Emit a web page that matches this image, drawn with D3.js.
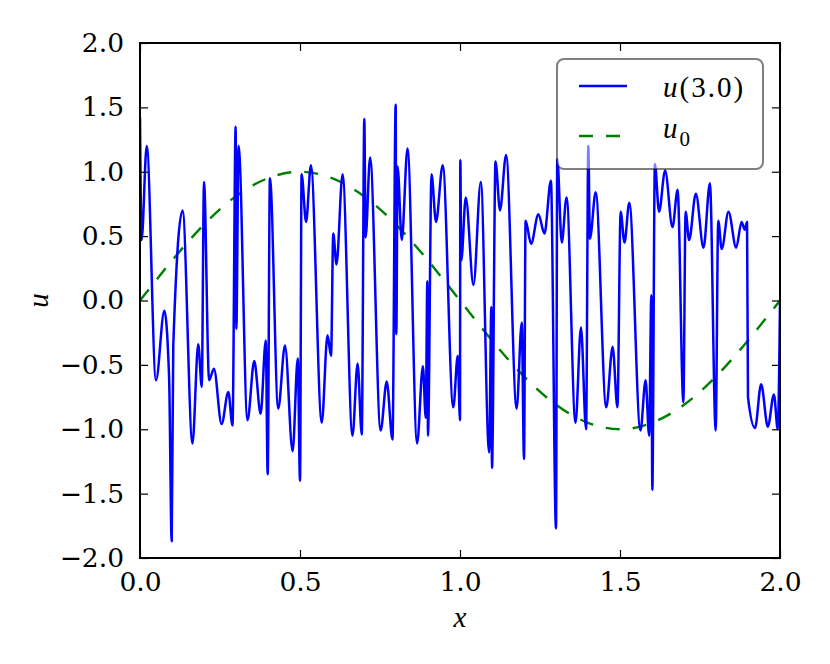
<!DOCTYPE html>
<html><head><meta charset="utf-8">
<script src="https://cdn.jsdelivr.net/npm/d3@7"></script>
<style>body{margin:0;background:#fff}svg{display:block}</style>
</head><body>
<svg id="chart" width="830" height="664"></svg>
<script>
// ---- data ----
const uX = [0.000,0.005,0.021,0.050,0.076,0.091,0.099,0.104,0.133,0.164,0.182,0.193,0.200,0.216,0.231,0.255,0.276,0.289,0.299,0.301,0.308,0.336,
0.357,0.377,0.393,0.399,0.406,0.432,0.453,0.477,0.493,0.500,0.505,0.519,0.534,0.568,0.586,0.597,0.604,0.614,0.633,0.664,0.680,
0.693,0.701,0.705,0.719,0.752,0.771,0.789,0.799,0.801,0.805,0.818,0.836,0.866,0.884,0.893,0.898,0.900,0.911,0.925,0.946,0.979,0.993,1.000,1.001,1.004,1.018,
1.042,1.065,1.091,1.098,1.100,1.111,1.125,1.144,1.177,1.193,1.200,1.205,1.222,1.245,1.264,1.284,1.300,1.304,1.318,1.333,1.361,
1.378,1.394,1.401,1.406,1.424,1.457,1.477,1.492,1.502,1.514,1.529,1.564,1.580,1.591,1.598,1.601,1.609,1.622,1.641,1.664,1.680,1.698,
1.705,1.716,1.737,1.761,1.781,1.799,1.807,1.818,1.839,1.863,1.880,1.890,1.897,1.900,1.922,1.941,1.962,1.981,1.993,2.000];
const uY = [1.42,0.47,1.20,-0.62,-0.08,-0.60,-1.87,-0.35,0.70,-1.11,-0.34,-0.67,0.92,-0.62,-0.53,-0.96,-0.71,-0.97,1.35,-0.22,1.20,-0.93,
-0.47,-0.88,-0.31,-1.35,0.95,-0.84,-0.35,-1.17,-0.45,-1.40,0.98,0.61,1.05,-0.95,-0.27,-0.43,0.52,0.28,0.98,-1.05,-0.49,
-1.04,1.41,0.49,1.11,-1.01,-0.63,-1.08,1.52,-0.26,1.04,0.47,1.18,-1.11,-0.51,-0.91,0.15,-1.05,0.98,0.61,1.05,-0.83,-0.43,-0.93,1.09,0.31,0.80,
0.12,0.92,-1.18,-0.05,-1.30,1.08,0.70,1.13,-0.84,-0.17,-1.23,0.62,0.44,0.67,0.52,0.93,-1.77,1.10,0.45,0.80,-0.95,
-0.21,-1.00,1.20,0.48,0.84,-0.83,-0.36,-0.83,0.69,0.45,0.76,-1.01,-0.62,-1.05,0.04,-1.47,1.06,0.69,1.01,0.57,0.86,-0.79,
0.69,0.47,0.83,0.41,0.91,-1.01,0.62,0.40,0.69,0.41,0.61,0.55,0.61,-0.75,-0.99,-0.65,-0.98,-0.73,-1.00,-0.02];

const u0X = [0,0.1,0.2,0.3,0.4,0.5,0.6,0.7,0.8,0.9,1.0,1.1,1.2,1.3,1.4,1.5,1.6,1.7,1.8,1.9,2.0];
const u0Y = [0,0.31,0.59,0.81,0.95,1.0,0.95,0.81,0.59,0.31,0,-0.31,-0.59,-0.81,-0.95,-1.0,-0.95,-0.81,-0.59,-0.31,0];

const xTicks = [0.0,0.5,1.0,1.5,2.0];
const yTicks = [-2.0,-1.5,-1.0,-0.5,0.0,0.5,1.0,1.5,2.0];
const legendLabels = ["u(3.0)","u0"];

// ---- drawing ----
const svg = d3.select("#chart");
const L=140, R=780, T=43, B=558;
const x = d3.scaleLinear().domain([0,2]).range([L,R]);
const y = d3.scaleLinear().domain([-2,2]).range([B,T]);
const fmt = v => (v<0?"\u2212":"") + Math.abs(v).toFixed(1);

svg.append("defs").append("clipPath").attr("id","clip")
  .append("rect").attr("x",L).attr("y",T).attr("width",R-L).attr("height",B-T);

const g = svg.append("g").attr("clip-path","url(#clip)");
g.append("path").datum(u0X.map((d,i)=>[d,u0Y[i]]))
  .attr("d", d3.line().x(d=>x(d[0])).y(d=>y(d[1])).curve(d3.curveNatural))
  .attr("fill","none").attr("stroke","#008000").attr("stroke-width",2.4)
  .attr("stroke-dasharray","14,13");
g.append("path").datum(uX.map((d,i)=>[d,uY[i]]))
  .attr("d", d3.line().x(d=>x(d[0])).y(d=>y(d[1])).curve(d3.curveMonotoneX))
  .attr("fill","none").attr("stroke","#0000ff").attr("stroke-width",2.5)
  .attr("stroke-linejoin","round");

// axes with inward ticks on all four sides
const tl = 8;
const axB = svg.append("g").attr("transform",`translate(0,${B})`)
  .call(d3.axisBottom(x).tickValues(xTicks).tickFormat(fmt).tickSizeInner(-tl).tickSizeOuter(0).tickPadding(13));
const axT = svg.append("g").attr("transform",`translate(0,${T})`)
  .call(d3.axisTop(x).tickValues(xTicks).tickFormat("").tickSizeInner(-tl).tickSizeOuter(0));
const axL = svg.append("g").attr("transform",`translate(${L},0)`)
  .call(d3.axisLeft(y).tickValues(yTicks).tickFormat(fmt).tickSizeInner(-tl).tickSizeOuter(0).tickPadding(16));
const axR = svg.append("g").attr("transform",`translate(${R},0)`)
  .call(d3.axisRight(y).tickValues(yTicks).tickFormat("").tickSizeInner(-tl).tickSizeOuter(0));
[axB,axT,axL,axR].forEach(a=>{
  a.select(".domain").remove();
  a.selectAll(".tick line").attr("stroke","#000").attr("stroke-width",1.2);
  a.selectAll("text").attr("font-family","DejaVu Serif").attr("font-size",26.5).attr("fill","#000");
});
axB.selectAll("text").attr("dy","0.75em");
svg.append("rect").attr("x",L).attr("y",T).attr("width",R-L).attr("height",B-T)
  .attr("fill","none").attr("stroke","#000").attr("stroke-width",2);

// axis labels
svg.append("text").attr("x",x(1.0)).attr("y",627).attr("text-anchor","middle")
  .attr("font-family","Liberation Serif").attr("font-style","italic").attr("font-size",29).text("x");
svg.append("text").attr("transform",`translate(48,${y(0)}) rotate(-90)`).attr("text-anchor","middle")
  .attr("font-family","Liberation Serif").attr("font-style","italic").attr("font-size",29).text("u");

// legend
const lg = svg.append("g");
lg.append("rect").attr("x",557).attr("y",59).attr("width",206).attr("height",110).attr("rx",7)
  .attr("fill","#fff").attr("fill-opacity",0.5).attr("stroke","#000").attr("stroke-opacity",0.5).attr("stroke-width",2);
lg.append("line").attr("x1",579).attr("x2",627).attr("y1",86).attr("y2",86)
  .attr("stroke","#0000ff").attr("stroke-width",2.5);
lg.append("line").attr("x1",579).attr("x2",627).attr("y1",136).attr("y2",136)
  .attr("stroke","#008000").attr("stroke-width",2.4).attr("stroke-dasharray","14,13");
const t1 = lg.append("text").attr("x",663).attr("y",97).attr("font-family","Liberation Serif").attr("font-size",29).attr("letter-spacing",2);
t1.append("tspan").attr("font-style","italic").text(legendLabels[0].slice(0,1));
t1.append("tspan").text(legendLabels[0].slice(1));
const t2 = lg.append("text").attr("x",663).attr("y",138).attr("font-family","Liberation Serif").attr("font-size",29);
t2.append("tspan").attr("font-style","italic").text(legendLabels[1].slice(0,1));
t2.append("tspan").attr("font-size",21).attr("dx",2).attr("dy",8).text(legendLabels[1].slice(1));
</script>
</body></html>
